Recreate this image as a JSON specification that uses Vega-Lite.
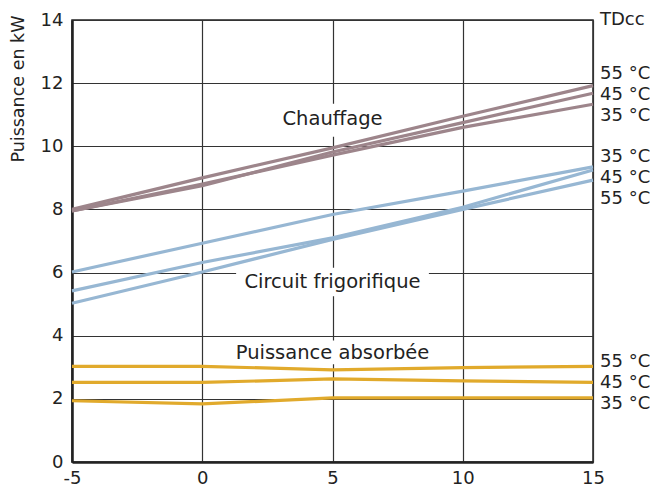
{
  "$schema": "https://vega.github.io/schema/vega-lite/v6.json",
  "autosize": {"type": "none"},
  "width": 521,
  "height": 442,
  "padding": {"left": 72, "top": 20, "right": 61, "bottom": 28},
  "background": "white",
  "config": {
    "font": "DejaVu Sans",
    "view": {"stroke": "#222222", "strokeWidth": 1.5},
    "axis": {
      "grid": true,
      "gridColor": "#333333",
      "gridWidth": 1.2,
      "gridOpacity": 1,
      "domainColor": "#222222",
      "domainWidth": 2.5,
      "ticks": false,
      "labelFont": "DejaVu Sans",
      "labelFontSize": 18,
      "labelColor": "#222222",
      "titleFont": "DejaVu Sans",
      "titleFontSize": 17.5,
      "titleFontWeight": "normal",
      "titleColor": "#222222"
    }
  },
  "datasets": {
    "curves": [
      {"series": "Chauffage", "tdcc": "55", "x": -5, "y": 8.0},
      {"series": "Chauffage", "tdcc": "55", "x": 0, "y": 9.0},
      {"series": "Chauffage", "tdcc": "55", "x": 5, "y": 9.95},
      {"series": "Chauffage", "tdcc": "55", "x": 10, "y": 10.95},
      {"series": "Chauffage", "tdcc": "55", "x": 15, "y": 11.92},
      {"series": "Chauffage", "tdcc": "45", "x": -5, "y": 7.95},
      {"series": "Chauffage", "tdcc": "45", "x": 0, "y": 8.75},
      {"series": "Chauffage", "tdcc": "45", "x": 5, "y": 9.82},
      {"series": "Chauffage", "tdcc": "45", "x": 10, "y": 10.75},
      {"series": "Chauffage", "tdcc": "45", "x": 15, "y": 11.68},
      {"series": "Chauffage", "tdcc": "35", "x": -5, "y": 7.95},
      {"series": "Chauffage", "tdcc": "35", "x": 0, "y": 8.8},
      {"series": "Chauffage", "tdcc": "35", "x": 5, "y": 9.72},
      {"series": "Chauffage", "tdcc": "35", "x": 10, "y": 10.6},
      {"series": "Chauffage", "tdcc": "35", "x": 15, "y": 11.33},
      {"series": "Froid", "tdcc": "35", "x": -5, "y": 6.02},
      {"series": "Froid", "tdcc": "35", "x": 0, "y": 6.93},
      {"series": "Froid", "tdcc": "35", "x": 5, "y": 7.84},
      {"series": "Froid", "tdcc": "35", "x": 10, "y": 8.58},
      {"series": "Froid", "tdcc": "35", "x": 15, "y": 9.35},
      {"series": "Froid", "tdcc": "45", "x": -5, "y": 5.42},
      {"series": "Froid", "tdcc": "45", "x": 0, "y": 6.32},
      {"series": "Froid", "tdcc": "45", "x": 5, "y": 7.1},
      {"series": "Froid", "tdcc": "45", "x": 10, "y": 8.07},
      {"series": "Froid", "tdcc": "45", "x": 15, "y": 9.25},
      {"series": "Froid", "tdcc": "55", "x": -5, "y": 5.03},
      {"series": "Froid", "tdcc": "55", "x": 0, "y": 6.02},
      {"series": "Froid", "tdcc": "55", "x": 5, "y": 7.05},
      {"series": "Froid", "tdcc": "55", "x": 10, "y": 8.0},
      {"series": "Froid", "tdcc": "55", "x": 15, "y": 8.93},
      {"series": "Absorbee", "tdcc": "55", "x": -5, "y": 3.03},
      {"series": "Absorbee", "tdcc": "55", "x": 0, "y": 3.03},
      {"series": "Absorbee", "tdcc": "55", "x": 5, "y": 2.92},
      {"series": "Absorbee", "tdcc": "55", "x": 10, "y": 2.99},
      {"series": "Absorbee", "tdcc": "55", "x": 15, "y": 3.03},
      {"series": "Absorbee", "tdcc": "45", "x": -5, "y": 2.52},
      {"series": "Absorbee", "tdcc": "45", "x": 0, "y": 2.52},
      {"series": "Absorbee", "tdcc": "45", "x": 5, "y": 2.63},
      {"series": "Absorbee", "tdcc": "45", "x": 10, "y": 2.57},
      {"series": "Absorbee", "tdcc": "45", "x": 15, "y": 2.52},
      {"series": "Absorbee", "tdcc": "35", "x": -5, "y": 1.94},
      {"series": "Absorbee", "tdcc": "35", "x": 0, "y": 1.84},
      {"series": "Absorbee", "tdcc": "35", "x": 5, "y": 2.03},
      {"series": "Absorbee", "tdcc": "35", "x": 10, "y": 2.03},
      {"series": "Absorbee", "tdcc": "35", "x": 15, "y": 2.03}
    ],
    "masks": [
      {"x": 2.8, "x2": 7.2, "y": 10.3, "y2": 11.35},
      {"x": 1.3, "x2": 8.7, "y": 5.25, "y2": 6.15},
      {"x": 1.2, "x2": 8.8, "y": 3.1, "y2": 3.85}
    ],
    "inlabels": [
      {"label": "Chauffage", "x": 5, "y": 10.86},
      {"label": "Circuit frigorifique", "x": 5, "y": 5.7},
      {"label": "Puissance absorbée", "x": 5, "y": 3.45}
    ],
    "rightlabels": [
      {"label": "TDcc", "y": 14.0},
      {"label": "55 °C", "y": 12.3},
      {"label": "45 °C", "y": 11.63},
      {"label": "35 °C", "y": 10.97},
      {"label": "35 °C", "y": 9.66},
      {"label": "45 °C", "y": 8.99},
      {"label": "55 °C", "y": 8.33},
      {"label": "55 °C", "y": 3.17},
      {"label": "45 °C", "y": 2.5},
      {"label": "35 °C", "y": 1.84}
    ]
  },
  "layer": [
    {
      "data": {"name": "masks"},
      "mark": {"type": "rect", "color": "white"},
      "encoding": {
        "x": {"field": "x", "type": "quantitative", "scale": {"domain": [-5, 15], "nice": false},
              "axis": {"values": [-5, 0, 5, 10, 15], "title": null, "labelPadding": 7, "labelFlush": false,
                       "labelExpr": "replace(datum.label, '−', '-')"}},
        "x2": {"field": "x2"},
        "y": {"field": "y", "type": "quantitative", "scale": {"domain": [0, 14], "nice": false},
              "axis": {"values": [0, 2, 4, 6, 8, 10, 12, 14], "title": "Puissance en kW", "labelPadding": 9,
                       "titleAnchor": "end", "titleAngle": -90, "titleX": -54, "titleY": -5,
                       "titleAlign": "right", "titleBaseline": "middle"}},
        "y2": {"field": "y2"}
      }
    },
    {
      "data": {"name": "curves"},
      "mark": {"type": "line", "strokeWidth": 3.2},
      "encoding": {
        "x": {"field": "x", "type": "quantitative"},
        "y": {"field": "y", "type": "quantitative"},
        "color": {"field": "series", "type": "nominal",
                  "scale": {"domain": ["Chauffage", "Froid", "Absorbee"], "range": ["#9d858b", "#97b7d3", "#e1aa2c"]},
                  "legend": null},
        "detail": {"field": "tdcc"}
      }
    },
    {
      "data": {"name": "inlabels"},
      "mark": {"type": "text", "fontSize": 19.5, "color": "#222222", "align": "center", "baseline": "middle"},
      "encoding": {
        "x": {"field": "x", "type": "quantitative"},
        "y": {"field": "y", "type": "quantitative"},
        "text": {"field": "label"}
      }
    },
    {
      "data": {"name": "rightlabels"},
      "mark": {"type": "text", "fontSize": 18, "color": "#222222", "align": "left", "baseline": "middle", "dx": 7, "clip": false},
      "encoding": {
        "x": {"datum": 15, "type": "quantitative"},
        "y": {"field": "y", "type": "quantitative"},
        "text": {"field": "label"}
      }
    }
  ]
}
